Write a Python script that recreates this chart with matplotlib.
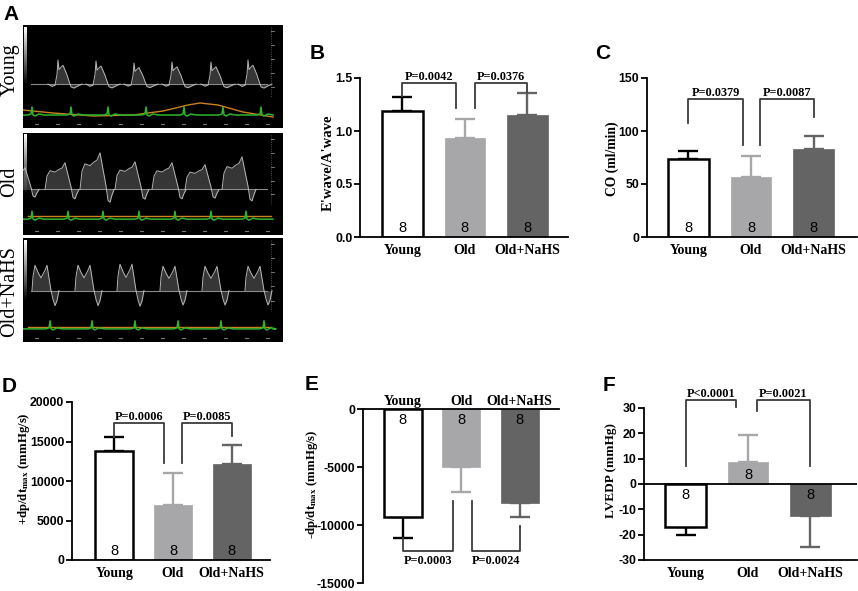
import numpy as np
import matplotlib
matplotlib.use('Agg')
import matplotlib.pyplot as plt

plt.rcParams['mathtext.fontset'] = 'stix'

W, H = 858, 591

# datos
grupos = ['Young', 'Old', 'Old+NaHS']
n_grupo = [8, 8, 8]

ea_media = [1.19, 0.93, 1.15]
ea_sd = [0.13, 0.18, 0.21]
ea_p = ['P=0.0042', 'P=0.0376']
ea_ticks = [0.0, 0.5, 1.0, 1.5]
ea_ticklab = ['0.0', '0.5', '1.0', '1.5']

co_media = [73.6, 56.6, 83.0]
co_sd = [7.4, 19.8, 12.3]
co_p = ['P=0.0379', 'P=0.0087']
co_ticks = [0, 50, 100, 150]

dpmax_media = [13800, 6960, 12150]
dpmax_sd = [1770, 4050, 2410]
dpmax_p = ['P=0.0006', 'P=0.0085']
dpmax_ticks = [0, 5000, 10000, 15000, 20000]

dpmin_media = [-9300, -5000, -8100]
dpmin_sd = [1800, 2150, 1200]
dpmin_p = ['P=0.0003', 'P=0.0024']
dpmin_ticks = [-15000, -10000, -5000, 0]

lvedp_media = [-17.0, 8.7, -12.6]
lvedp_sd = [3.1, 10.5, 12.3]
lvedp_p = ['P<0.0001', 'P=0.0021']
lvedp_ticks = [-30, -20, -10, 0, 10, 20, 30]

# ecografias (px dentro de cada imagen)
young_picos = [35, 73, 111, 149, 188, 225]
young_alturas = [24, 23, 21, 22, 22, 24]
young_ecg = [9, 48, 85, 123, 161, 200, 238]
young_resp_x = [0, 30, 70, 110, 140, 165, 177, 195, 220, 250]
young_resp_y = [85, 88, 91, 90, 86, 80, 78, 80, 87, 92]

old_picos = [2, 42, 77, 112, 149, 182, 219]
old_alturas = [22, 27, 37, 28, 27, 25, 33]
old_ecg = [9, 45, 80, 116, 152, 188, 223]

nahs_inicio = [9, 52, 94, 137, 179, 222]
nahs_alturas = [25, 25, 26, 24, 24, 24]
nahs_ecg = [27, 69, 112, 155, 198, 241]

colores = ['white', '#a7a7aa', '#646464']
bordes = ['black', '#a7a7aa', '#646464']
col_err = ['black', '#a7a7aa', '#646464']
col_corchete = '#3c3c3c'

fig = plt.figure(figsize=(W / 100, H / 100), dpi=100)


def caja(x0, y0, x1, y1):
    return [x0 / W, 1 - y1 / H, (x1 - x0) / W, (y1 - y0) / H]


def ftexto(x, y, s, **kw):
    fig.text(x / W, 1 - y / H, s, **kw)


def ecografia(ax, base, resp_x, resp_y, barra_alto):
    ax.set_facecolor('black')
    ax.set_xlim(0, 260)
    ax.set_ylim(103, 0)
    ax.set_xticks([])
    ax.set_yticks([])
    for s in ax.spines.values():
        s.set_visible(False)
    grad = np.linspace(1, 0, 100).reshape(-1, 1)
    ax.imshow(grad, cmap='gray', extent=(1, 4, barra_alto, 2), aspect='auto', vmin=0, vmax=1)
    ax.axhline(base, xmin=0.03, xmax=0.94, color='#8a8a8a', lw=0.8)
    ax.plot([248, 248], [2, 72], color='#666666', lw=0.6, ls=':')
    for yy in np.arange(6, 72, 14):
        ax.plot([248, 251], [yy, yy], color='#888888', lw=0.6)
    for xx in np.arange(12, 250, 21):
        ax.plot([xx, xx + 3], [99, 99], color='#777777', lw=0.8)
    ax.plot(resp_x, resp_y, color='#c8821e', lw=1.0)


def traza(ax, xs, ys, base):
    ax.fill_between(xs, base, ys, color='#7a7a7a', alpha=0.45, lw=0)
    ax.plot(xs, ys, color='#c8c8c8', lw=0.7, alpha=0.9)


def ecg(ax, pos, nivel):
    xs = [0]
    ys = [nivel]
    for p in pos:
        for dx, dh in zip([-4, -1, 0, 1, 3, 7, 12], [0, 1, 8, 0, -1, 1, 0]):
            xs.append(p + dx)
            ys.append(nivel - dh)
    xs.append(250)
    ys.append(nivel)
    ax.plot(xs, ys, color='#2db52d', lw=1.1)


# A - Young
axy = fig.add_axes(caja(23, 25, 283, 128))
ecografia(axy, 59, young_resp_x, young_resp_y, 60)
for p, h in zip(young_picos, young_alturas):
    dx = np.array([-10, -6, -3, -1, 0, 1, 3, 5, 7, 9, 11, 13, 16, 20, 24])
    f = np.array([0, -0.1, -0.05, 0.4, 1.0, 0.6, 0.7, 0.78, 0.58, 0.38, 0.12, -0.12, -0.17, -0.08, 0])
    traza(axy, p + dx, 59 - f * h, 59)
ecg(axy, young_ecg, 90)

# A - Old
axo = fig.add_axes(caja(23, 133, 283, 235))
ecografia(axo, 57, [5, 248], [84, 84], 62)
for p, h in zip(old_picos, old_alturas):
    dx = np.array([-20, -18, -15, -10, -6, -3, 0, 3, 6, 8, 10, 12, 14])
    f = np.array([0, 0.5, 0.7, 0.65, 0.75, 0.8, 1.0, 0.55, 0.1, -0.3, -0.35, -0.15, 0])
    traza(axo, p + dx, 57 - f * h, 57)
ecg(axo, old_ecg, 87)

# A - Old+NaHS
axn = fig.add_axes(caja(23, 238, 283, 342))
ecografia(axn, 52, [5, 248], [88, 88], 62)
for p, h in zip(nahs_inicio, nahs_alturas):
    dx = np.array([0, 1, 3, 6, 9, 13, 15, 17, 19, 21, 23, 25, 27])
    f = np.array([0, 0.55, 1.0, 0.72, 0.5, 0.8, 1.0, 0.5, 0, -0.35, -0.6, -0.4, 0])
    traza(axn, p + dx, 52 - f * h, 52)
ecg(axn, nahs_ecg, 90)

fila = dict(rotation=90, ha='center', va='center', fontsize=14.5, family='Liberation Serif')
ftexto(10, 70, 'Young', **fila)
ftexto(10, 182, 'Old', **fila)
ftexto(10, 292, 'Old+NaHS', **fila)


def panel(pos, medias, sd, ylim, yticks, ylabels, xlim, etiquetas_arriba=False):
    ax = fig.add_axes(caja(*pos))
    x = np.arange(len(grupos))
    for i in x:
        ax.bar(i, medias[i], width=0.65, color=colores[i], edgecolor=bordes[i],
               linewidth=1.8 if i == 0 else 0.5, zorder=2)
        if medias[i] >= 0:
            yerr = [[0], [sd[i]]]
        else:
            yerr = [[sd[i]], [0]]
        ax.errorbar(i, medias[i], yerr=yerr, color=col_err[i], capsize=7,
                    elinewidth=1.7, capthick=1.7, zorder=1.5)
        if medias[i] >= 0:
            ax.annotate(str(n_grupo[i]), (i, 0), xytext=(0, 1.5), textcoords='offset points',
                        ha='center', va='bottom', fontsize=10.5, family='Liberation Sans', zorder=3)
        else:
            ax.annotate(str(n_grupo[i]), (i, 0), xytext=(0, -3), textcoords='offset points',
                        ha='center', va='top', fontsize=10.5, family='Liberation Sans', zorder=3)
    ax.set_xlim(*xlim)
    ax.set_ylim(*ylim)
    ax.set_yticks(yticks, labels=ylabels, fontsize=8.8, fontweight='bold', family='Liberation Sans')
    ax.tick_params(axis='y', length=4, width=1.3, pad=1.5)
    ax.spines['right'].set_visible(False)
    ax.spines['left'].set_linewidth(1.3)
    ax.set_xticks(x, labels=grupos, fontsize=10, fontweight='bold', family='Liberation Serif')
    if etiquetas_arriba:
        ax.spines['bottom'].set_visible(False)
        ax.spines['top'].set_linewidth(1.3)
        ax.xaxis.tick_top()
        ax.tick_params(axis='x', direction='in', length=4, width=1.2, pad=1)
    else:
        ax.spines['top'].set_visible(False)
        ax.spines['bottom'].set_linewidth(1.3)
        ax.tick_params(axis='x', length=0, pad=5)
    return ax


def corchete(ax, x0, x1, y, y0, y1, texto, abajo=False):
    ax.plot([x0, x0, x1, x1], [y0, y, y, y1], color=col_corchete, lw=1.3, clip_on=False, zorder=3)
    if abajo:
        ax.annotate(texto, ((x0 + x1) / 2, y), xytext=(0, -3), textcoords='offset points',
                    ha='center', va='top', fontsize=8.8, fontweight='bold',
                    family='Liberation Serif', annotation_clip=False)
    else:
        ax.annotate(texto, ((x0 + x1) / 2, y), xytext=(0, 0.3), textcoords='offset points',
                    ha='center', va='bottom', fontsize=8.8, fontweight='bold',
                    family='Liberation Serif', annotation_clip=False)


def num(v):
    return str(v).replace('\u2212', '-')


# B
axb = panel((360, 78, 568, 237), ea_media, ea_sd, (0, 1.5), ea_ticks, ea_ticklab, (-0.68, 2.65))
corchete(axb, 0, 0.86, 1.45, 1.33, 1.22, ea_p[0])
corchete(axb, 1.16, 2, 1.45, 1.22, 1.37, ea_p[1])

# C
axc = panel((647, 78, 857, 237), co_media, co_sd, (0, 150), co_ticks, [num(t) for t in co_ticks], (-0.66, 2.69))
corchete(axc, 0, 0.87, 130, 108, 87, co_p[0])
corchete(axc, 1.14, 2, 130, 87, 113, co_p[1])

# D
axd = panel((72, 402, 270, 560), dpmax_media, dpmax_sd, (0, 20000), dpmax_ticks,
            [num(t) for t in dpmax_ticks], (-0.72, 2.65))
corchete(axd, 0, 0.84, 17300, 15600, 12300, dpmax_p[0])
corchete(axd, 1.15, 2, 17300, 12300, 15700, dpmax_p[1])

# E
axe = panel((363, 409, 559, 583), dpmin_media, dpmin_sd, (-15000, 0), dpmin_ticks,
            [num(t) for t in dpmin_ticks], (-0.68, 2.67), True)
corchete(axe, 0, 0.86, -12200, -11100, -7900, dpmin_p[0], abajo=True)
corchete(axe, 1.19, 2, -12200, -7900, -10100, dpmin_p[1], abajo=True)

# F
axf = panel((644, 408, 857, 560), lvedp_media, lvedp_sd, (-30, 30), lvedp_ticks,
            [num(t) for t in lvedp_ticks], (-0.67, 2.75))
axf.axhline(0, color='black', lw=1.3, zorder=2.5)
corchete(axf, 0, 0.8, 33, 7, 30.4, lvedp_p[0])
corchete(axf, 1.14, 2, 33, 29, 7, lvedp_p[1])

# etiquetas de eje y
ylab = dict(rotation=90, ha='center', va='center', fontweight='bold', family='Liberation Serif')
ftexto(328, 163, "E'wave/A'wave", fontsize=10.5, **ylab)
ftexto(612, 159, 'CO (ml/min)', fontsize=9.8, **ylab)
ftexto(24, 469, r'+dp/dt$_{\mathbf{max}}$ (mmHg/s)', fontsize=9.2, **ylab)
ftexto(312, 484, r'-dp/dt$_{\mathbf{max}}$ (mmHg/s)', fontsize=9.2, **ylab)
ftexto(611, 471, 'LVEDP (mmHg)', fontsize=9.5, **ylab)

# letras de panel
letra = dict(ha='left', va='top', fontsize=15, fontweight='bold', family='Liberation Sans')
ftexto(3, 5, 'A', **letra)
ftexto(310, 44, 'B', **letra)
ftexto(595, 44, 'C', **letra)
ftexto(2, 377, 'D', **letra)
ftexto(305, 375, 'E', **letra)
ftexto(603, 376, 'F', **letra)

fig.savefig('out.png', dpi=100)
